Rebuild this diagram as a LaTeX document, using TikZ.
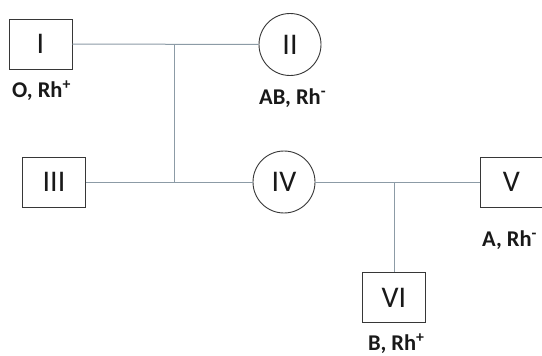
\documentclass[tikz,border=0pt]{standalone}
\usepackage{fontspec}
\setmainfont{Carlito}
\definecolor{linkgray}{RGB}{140,155,166}
\definecolor{edgegray}{RGB}{55,55,55}
\definecolor{txt}{RGB}{25,25,25}
\begin{document}
\begin{tikzpicture}[x=1pt,y=-1pt,
  male/.style={draw=edgegray,line width=0.9pt,rectangle,minimum width=63pt,minimum height=50pt,inner sep=0pt,font=\fontsize{30}{30}\selectfont,text=txt},
  female/.style={draw=edgegray,line width=0.9pt,circle,minimum size=62pt,inner sep=0pt,font=\fontsize{30}{30}\selectfont,text=txt},
  link/.style={draw=linkgray,line width=1pt},
  lab/.style={anchor=base west,inner sep=0pt,font=\bfseries\fontsize{22.5}{22.5}\selectfont,text=txt}]
\useasboundingbox (0,0) rectangle (542,356);
\fill[white] (0,0) rectangle (542,356);
% individuals
\node[male] (I) at (40.5,44) {I};
\node[female] (II) at (290,44.5) {II};
\node[male] (III) at (54,182) {III};
\node[female] (IV) at (284,182) {IV};
\node[male] (V) at (511.5,182) {V};
\node[male] (VI) at (394,297.5) {VI};
% labels
\node[lab] (lI) at (12,97.5) {O, Rh\textsuperscript{+}};
\node[lab] (lII) at (259,104.5) {AB, Rh\textsuperscript{-}};
\node[lab] (lV) at (482,246.5) {A, Rh\textsuperscript{-}};
\node[lab] (lVI) at (368,350) {B, Rh\textsuperscript{+}};
% connection points
\coordinate (m1) at (174,44);
\coordinate (m2) at (174,182);
\coordinate (m3) at (394,182);
% connectors
\draw[link] (I.east) -- (II.west);
\draw[link] (m1) -- (m2);
\draw[link] (III.east) -- (IV.west);
\draw[link] (IV.east) -- (V.west);
\draw[link] (m3) -- (VI.north);
\end{tikzpicture}
\end{document}
